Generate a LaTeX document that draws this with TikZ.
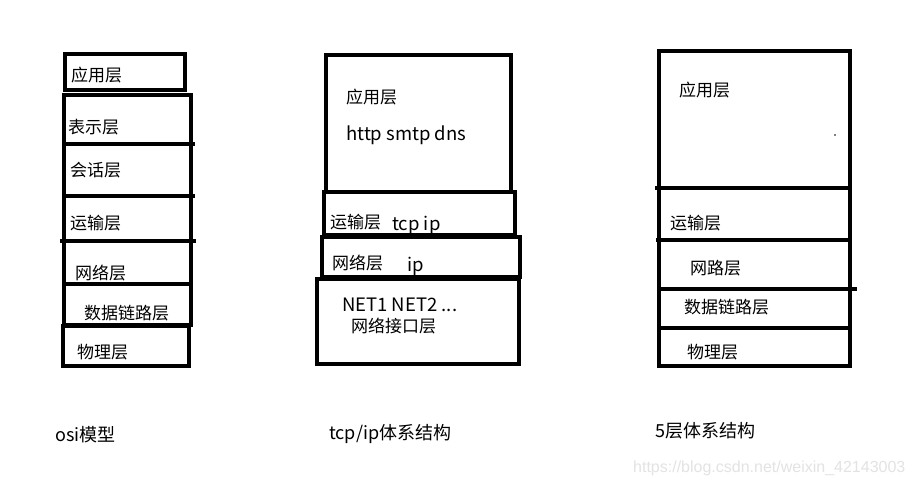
\documentclass[tikz,border=0pt]{standalone}
\usepackage{fontspec}
\setmainfont{Noto Sans CJK SC}
\newfontfamily\wmfont{Liberation Sans}
\begin{document}
\begin{tikzpicture}[x=1pt,y=-1pt,
  frame/.style={line width=4.5pt,line join=miter,line cap=rect},
  sepline/.style={line width=4.5pt},
  lbl/.style={anchor=west,inner sep=0pt,yshift=-2.5pt,font=\fontsize{17}{17}\selectfont,text height=0.88em,text depth=0.12em},
  latin/.style={lbl,font=\fontsize{18.5}{18.5}\selectfont},
  captext/.style={lbl,font=\fontsize{18}{18}\selectfont},
  wm/.style={anchor=west,inner sep=0pt,font=\wmfont\fontsize{16}{16}\selectfont,text=black!11}]
\useasboundingbox[fill=white] (0,0) rectangle (914,487);
% OSI
\draw[frame] (65,54) rectangle (185,90);
\draw[frame] (64,95) rectangle (191,325);
\draw[sepline] (64,144) -- (195,144);
\draw[sepline] (64,196) -- (195,196);
\draw[sepline] (60,241) -- (196,241);
\draw[sepline] (64,284) -- (191,284);
\draw[frame] (63,326) rectangle (189,366);
\node[lbl] (o1) at (71,75) {应用层};
\node[lbl] (o2) at (68,127) {表示层};
\node[lbl] (o3) at (70,170) {会话层};
\node[lbl] (o4) at (70,223) {运输层};
\node[lbl] (o5) at (75,273) {网络层};
\node[lbl] (o6) at (84,313) {数据链路层};
\node[lbl] (o7) at (77,352) {物理层};
% TCP/IP
\draw[frame] (326,55) rectangle (511,192);
\draw[frame] (324,192) rectangle (515,235);
\draw[frame] (322,237) rectangle (520,277);
\draw[frame] (317,279) rectangle (519,364);
\node[lbl] (t1) at (346,97) {应用层};
\node[latin] (t2) at (346,134) {http smtp dns};
\node[lbl] (t3) at (330,222) {运输层};
\node[latin] (t4) at (392,224) {tcp ip};
\node[lbl] (t5) at (332,263) {网络层};
\node[latin] (t6) at (407,265) {ip};
\node[latin] (t7) at (342,305) {NET1 NET2 ...};
\node[lbl] (t8) at (351,326) {网络接口层};
% 5 layer
\draw[frame] (659,51) rectangle (850,366);
\draw[sepline] (655,188) -- (850,188);
\draw[sepline] (656,240) -- (852,240);
\draw[sepline] (659,289) -- (857,289);
\draw[sepline] (659,328) -- (850,328);
\fill (835,135) circle (0.8);
\node[lbl] (f1) at (679,90) {应用层};
\node[lbl] (f2) at (670,223) {运输层};
\node[lbl] (f3) at (690,268) {网路层};
\node[lbl] (f4) at (684,307) {数据链路层};
\node[lbl] (f5) at (687,352) {物理层};
% captions
\node[captext] (c1) at (55,435) {osi模型};
\node[captext] (c2) at (329,433) {tcp/ip体系结构};
\node[captext] (c3) at (655,431) {5层体系结构};
\node[wm] (w) at (633,468) {https://blog.csdn.net/weixin\_42143003};
\end{tikzpicture}
\end{document}
